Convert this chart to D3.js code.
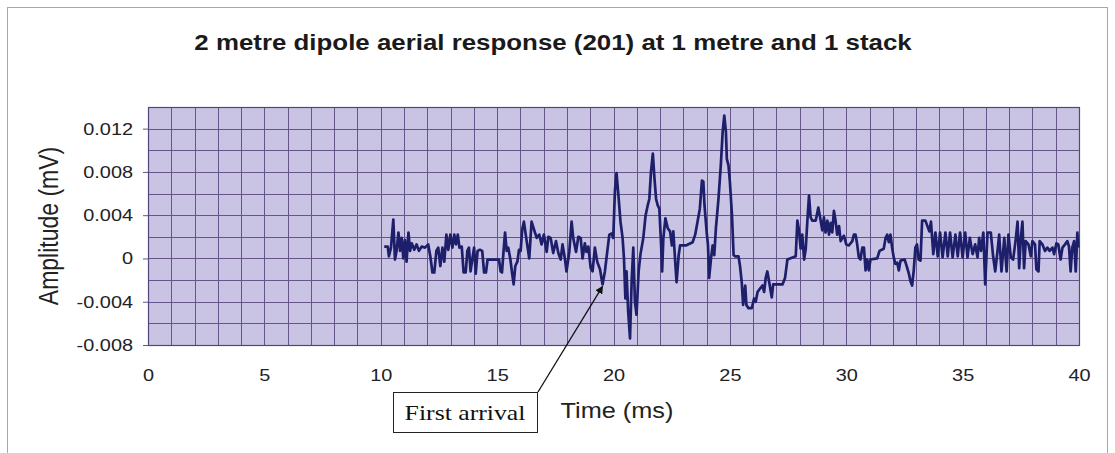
<!DOCTYPE html>
<html>
<head>
<meta charset="utf-8">
<script src="https://cdn.jsdelivr.net/npm/d3@7"></script>
<style>
  html, body { margin: 0; padding: 0; background: #ffffff; }
  svg { display: block; }
</style>
</head>
<body>
<svg id="chart" width="1115" height="453"></svg>
<script>
// Received trace: time (ms) and amplitude (mV)
const timeMs = [
  10.15, 10.30, 10.35, 10.44, 10.54, 10.61, 10.68, 10.76, 10.83, 10.90,
  10.97, 11.04, 11.11, 11.19, 11.26, 11.33, 11.44, 11.54, 11.64, 11.76,
  11.90, 12.04, 12.13, 12.22, 12.30, 12.39, 12.47, 12.56, 12.65, 12.73,
  12.82, 12.90, 12.99, 13.08, 13.16, 13.23, 13.31, 13.38, 13.48, 13.56,
  13.65, 13.72, 13.79, 13.86, 13.93, 14.01, 14.08, 14.16, 14.26, 14.36,
  14.44, 14.52, 14.59, 15.08, 15.15, 15.21, 15.28, 15.34, 15.41, 15.48,
  15.57, 15.64, 15.71, 15.78, 15.87, 15.94, 16.01, 16.08,
  16.15, 16.27, 16.38, 16.48, 16.58, 16.70, 16.81, 16.91, 17.01, 17.13,
  17.20, 17.30, 17.41, 17.53, 17.63, 17.73, 17.81, 17.91, 17.98, 18.10,
  18.20, 18.27, 18.39, 18.49, 18.59, 18.67, 18.77, 18.84, 18.92, 19.02,
  19.10, 19.20, 19.30, 19.42, 19.53, 19.63, 19.73, 19.82, 19.92, 19.99,
  20.06, 20.13, 20.22, 20.30, 20.39, 20.45, 20.51, 20.56, 20.63, 20.71,
  20.78, 20.85, 20.92, 20.99, 21.08, 21.16, 21.28, 21.38, 21.47,
  21.54, 21.61, 21.69, 21.76, 21.83, 21.90, 21.97, 22.04, 22.09, 22.14,
  22.23, 22.33, 22.43, 22.51, 22.57, 22.66, 22.71, 22.80, 22.86, 23.11,
  23.40, 23.51, 23.61, 23.71, 23.80, 23.86, 23.91, 24.00, 24.06, 24.11,
  24.19, 24.26, 24.33, 24.40, 24.51, 24.61, 24.69, 24.76, 24.83, 24.87,
  24.94, 25.00, 25.09, 25.16, 25.23, 25.37, 25.43, 25.51, 25.57, 25.66,
  25.71, 25.80, 25.94, 26.04, 26.11, 26.19, 26.29, 26.40, 26.47, 26.54,
  26.61, 26.69,
  26.80, 26.86, 27.26, 27.37, 27.43, 27.47, 27.83, 27.90, 27.97, 28.04,
  28.11, 28.19, 28.26, 28.33, 28.40, 28.47, 28.54, 28.69, 28.80, 28.90,
  28.97, 29.04, 29.11, 29.19, 29.26, 29.33, 29.40, 29.47, 29.54, 29.61,
  29.69, 29.76, 29.83, 29.90, 30.00, 30.11, 30.26, 30.33, 30.40, 30.47,
  30.54, 30.61, 30.69, 30.76, 30.83, 30.90, 30.97, 31.04, 31.33, 31.43,
  31.61, 31.69, 31.76, 31.83, 31.90, 31.97, 32.04, 32.11, 32.19, 32.26,
  32.33, 32.51, 32.61, 32.69, 32.76, 32.83, 32.90, 32.97, 33.04, 33.11,
  33.19, 33.26, 33.40,
  33.57, 33.64, 33.74, 33.83, 33.93, 34.03, 34.14, 34.26, 34.36, 34.46,
  34.57, 34.69, 34.79, 34.89, 35.00, 35.11, 35.21, 35.31, 35.43, 35.54,
  35.64, 35.71, 35.79, 35.89, 35.97, 36.07, 36.21, 36.31, 36.40, 36.50,
  36.57, 36.67, 36.79, 36.89, 36.97, 37.07, 37.17, 37.29, 37.36, 37.43,
  37.50, 37.57, 37.64, 37.71, 37.83, 37.93, 38.00, 38.11, 38.17, 38.26,
  38.31, 38.43, 38.54, 38.64, 38.74, 38.86, 38.93, 39.03, 39.11, 39.21,
  39.29, 39.40, 39.50, 39.57, 39.64, 39.71, 39.79, 39.86, 39.93, 39.97
];
const amplitudeMv = [
  0.0011, 0.0011, 0.0002, 0.0010, 0.0036, -0.0001, 0.0007, 0.0024, 0.0007, 0.0019,
  0.0000, 0.0017, -0.0003, 0.0024, 0.0007, 0.0014, 0.0008, 0.0013, 0.0007, 0.0011,
  0.0010, 0.0013, 0.0002, -0.0013, -0.0013, 0.0007, 0.0010, -0.0007, 0.0010, -0.0003,
  0.0022, 0.0008, 0.0022, 0.0010, 0.0022, 0.0013, 0.0022, 0.0010, 0.0011, -0.0013,
  -0.0013, 0.0007, 0.0010, -0.0012, -0.0001, 0.0010, -0.0014, 0.0007, 0.0008, 0.0007,
  -0.0013, -0.0013, -0.0001, -0.0001, -0.0012, -0.0013, 0.0008, 0.0024, 0.0007, 0.0010,
  -0.0001, -0.0013, -0.0024, -0.0007, -0.0003, 0.0008, 0.0007, 0.0027,
  0.0034, 0.0016, 0.0000, 0.0034, 0.0027, 0.0019, 0.0022, 0.0013, 0.0022, 0.0006,
  0.0020, 0.0019, 0.0005, 0.0016, 0.0005, -0.0001, 0.0013, 0.0000, -0.0012, 0.0006,
  0.0034, 0.0019, 0.0006, 0.0020, 0.0019, 0.0000, 0.0014, 0.0006, 0.0011, -0.0009,
  -0.0012, 0.0010, -0.0003, -0.0010, -0.0024, -0.0012, 0.0006, 0.0022, 0.0023, 0.0019,
  0.0062, 0.0079, 0.0056, 0.0034, 0.0019, 0.0000, -0.0037, -0.0012, -0.0049, -0.0074,
  -0.0021, 0.0010, -0.0040, -0.0052, -0.0012, 0.0004, 0.0019, 0.0040, 0.0049,
  0.0055, 0.0080, 0.0097, 0.0074, 0.0055, 0.0049, 0.0046, 0.0015, -0.0012, 0.0018,
  0.0037, 0.0028, 0.0025, 0.0012, 0.0025, -0.0006, -0.0022, 0.0003, 0.0012, 0.0012,
  0.0015, 0.0022, 0.0034, 0.0046, 0.0072, 0.0071, 0.0049, 0.0025, 0.0012, -0.0018,
  0.0000, 0.0012, 0.0003, 0.0028, 0.0055, 0.0086, 0.0117, 0.0132, 0.0117, 0.0092,
  0.0086, 0.0071, 0.0040, 0.0003, 0.0002, 0.0002, -0.0006, -0.0022, -0.0043, -0.0025,
  -0.0043, -0.0046, -0.0046, -0.0037, -0.0040, -0.0031, -0.0028, -0.0025, -0.0031, -0.0018,
  -0.0012, -0.0022,
  -0.0036, -0.0024, -0.0024, -0.0018, -0.0008, -0.0001, 0.0002, 0.0035, 0.0026, 0.0009,
  0.0022, -0.0001, 0.0009, 0.0035, 0.0058, 0.0038, 0.0035, 0.0035, 0.0047, 0.0035,
  0.0026, 0.0038, 0.0024, 0.0035, 0.0022, 0.0033, 0.0024, 0.0044, 0.0035, 0.0022,
  0.0030, 0.0016, 0.0019, 0.0021, 0.0013, 0.0012, 0.0016, 0.0022, 0.0022, 0.0013,
  0.0001, -0.0001, 0.0010, 0.0010, -0.0011, -0.0001, -0.0011, -0.0001, 0.0000, 0.0007,
  0.0009, 0.0019, 0.0022, 0.0015, 0.0022, 0.0010, 0.0001, -0.0005, -0.0004, -0.0011,
  -0.0002, -0.0001, -0.0008, -0.0014, -0.0021, -0.0025, -0.0011, 0.0010, 0.0013, -0.0001,
  -0.0002, 0.0035, 0.0035,
  0.0025, 0.0034, 0.0004, 0.0024, 0.0002, 0.0024, 0.0001, 0.0024, 0.0002, 0.0024,
  0.0001, 0.0022, 0.0002, 0.0024, 0.0001, 0.0024, 0.0001, 0.0019, 0.0004, 0.0013,
  0.0001, 0.0019, 0.0007, 0.0024, -0.0024, 0.0024, 0.0024, 0.0002, -0.0012, 0.0007,
  0.0022, -0.0012, 0.0019, -0.0012, 0.0022, 0.0001, -0.0001, 0.0019, 0.0034, -0.0009,
  0.0019, 0.0034, -0.0009, 0.0016, 0.0013, 0.0002, 0.0016, 0.0013, -0.0010, -0.0012,
  0.0016, 0.0013, 0.0007, 0.0010, 0.0007, 0.0010, 0.0004, 0.0014, 0.0013, -0.0001,
  0.0010, 0.0013, 0.0016, 0.0011, -0.0012, 0.0010, 0.0016, -0.0012, 0.0024, 0.0010
];

const xTickValues = [0, 5, 10, 15, 20, 25, 30, 35, 40];
const yTickValues = [-0.008, -0.004, 0, 0.004, 0.008, 0.012];

// Annotated first arrival on the trace
const firstArrival = { label: "First arrival", time: 19.53, amplitude: -0.0024 };

const svg = d3.select("#chart");
const plot = { left: 148, top: 107, right: 1079, bottom: 345 };

const x = d3.scaleLinear().domain([0, 40]).range([plot.left, plot.right]);
const y = d3.scaleLinear().domain([-0.008, 0.014]).range([plot.bottom, plot.top]);

const gridColor = "#65558a";
const sans = "'Liberation Sans', Arial, sans-serif";
const widen = 1.17; // text in this chart is set slightly wide

// Chart frame
svg.append("rect")
  .attr("x", 7.5).attr("y", 7.5)
  .attr("width", 1100).attr("height", 470)
  .attr("fill", "#ffffff")
  .attr("stroke", "#a8a8a8").attr("stroke-width", 1);

// Plot area
svg.append("rect")
  .attr("x", plot.left).attr("y", plot.top)
  .attr("width", plot.right - plot.left).attr("height", plot.bottom - plot.top)
  .attr("fill", "#cac4e4");

// Gridlines every 1 ms and every 0.002 mV
const grid = svg.append("g").attr("stroke", gridColor).attr("stroke-width", 1).attr("shape-rendering", "crispEdges");
grid.selectAll("line.v").data(d3.range(0, 41, 1)).join("line")
  .attr("class", "v")
  .attr("x1", d => Math.round(x(d)) + 0.5).attr("x2", d => Math.round(x(d)) + 0.5)
  .attr("y1", plot.top).attr("y2", plot.bottom);
grid.selectAll("line.h").data(d3.range(-4, 8).map(i => i * 0.002)).join("line")
  .attr("class", "h")
  .attr("y1", d => Math.round(y(d)) + 0.5).attr("y2", d => Math.round(y(d)) + 0.5)
  .attr("x1", plot.left).attr("x2", plot.right);

svg.append("rect")
  .attr("x", plot.left + 0.5).attr("y", plot.top + 0.5)
  .attr("width", plot.right - plot.left).attr("height", plot.bottom - plot.top)
  .attr("fill", "none").attr("stroke", "#55457a").attr("stroke-width", 1.2);

// Axes
const yAxis = d3.axisLeft(y).tickValues(yTickValues).tickSize(5).tickPadding(10)
  .tickFormat(d => d === 0 ? "0" : d.toFixed(3));
const gy = svg.append("g").attr("transform", `translate(${plot.left},0)`).call(yAxis);
gy.select(".domain").remove();
gy.selectAll(".tick line").attr("stroke", gridColor);
gy.selectAll("text")
  .attr("font-family", sans).attr("font-size", 17).attr("fill", "#222")
  .attr("x", -15 / widen)
  .attr("transform", `scale(${widen},1)`);

const xAxis = d3.axisBottom(x).tickValues(xTickValues).tickSize(0).tickPadding(24)
  .tickFormat(d3.format("d"));
const gx = svg.append("g").attr("transform", `translate(0,${plot.bottom})`).call(xAxis);
gx.select(".domain").remove();
gx.selectAll("text")
  .attr("font-family", sans).attr("font-size", 17).attr("fill", "#222")
  .attr("transform", `scale(${widen},1)`);

// Trace
const points = timeMs.map((t, i) => [t, amplitudeMv[i]]);
const line = d3.line().x(d => x(d[0])).y(d => y(d[1]));
svg.append("path")
  .datum(points)
  .attr("d", line)
  .attr("fill", "none")
  .attr("stroke", "#1e1f6b")
  .attr("stroke-width", 2.7)
  .attr("stroke-linejoin", "round");

// Titles
svg.append("text")
  .attr("transform", "translate(553,50) scale(1.15,1)")
  .attr("text-anchor", "middle")
  .attr("font-family", sans).attr("font-weight", "bold").attr("font-size", 22.5)
  .attr("fill", "#1a1a1a")
  .text("2 metre dipole aerial response (201) at 1 metre and 1 stack");

svg.append("text")
  .attr("transform", `translate(58,226) scale(${widen},1) rotate(-90)`)
  .attr("text-anchor", "middle")
  .attr("font-family", sans).attr("font-size", 23).attr("fill", "#222")
  .text("Amplitude (mV)");

svg.append("text")
  .attr("transform", "translate(617,418) scale(1.15,1)")
  .attr("text-anchor", "middle")
  .attr("font-family", sans).attr("font-size", 22).attr("fill", "#222")
  .text("Time (ms)");

// First-arrival callout
svg.append("defs").append("marker")
  .attr("id", "arrowhead")
  .attr("viewBox", "0 0 10 10").attr("refX", 9).attr("refY", 5)
  .attr("markerWidth", 6).attr("markerHeight", 6)
  .attr("orient", "auto")
  .append("path").attr("d", "M0,0 L10,5 L0,10 z").attr("fill", "#111");

const box = { x: 393, y: 392, w: 144, h: 40 };
svg.append("line")
  .attr("x1", box.x + box.w + 1).attr("y1", box.y)
  .attr("x2", x(firstArrival.time)).attr("y2", y(firstArrival.amplitude) + 2)
  .attr("stroke", "#111").attr("stroke-width", 1.3)
  .attr("marker-end", "url(#arrowhead)");
svg.append("rect")
  .attr("x", box.x + 0.5).attr("y", box.y + 0.5)
  .attr("width", box.w).attr("height", box.h)
  .attr("fill", "#ffffff").attr("stroke", "#222").attr("stroke-width", 1);
svg.append("text")
  .attr("transform", `translate(${box.x + box.w / 2},${box.y + 28}) scale(${widen},1)`)
  .attr("text-anchor", "middle")
  .attr("font-family", "'Liberation Serif', 'Times New Roman', serif")
  .attr("font-size", 22).attr("fill", "#111")
  .text(firstArrival.label);
</script>
</body>
</html>
